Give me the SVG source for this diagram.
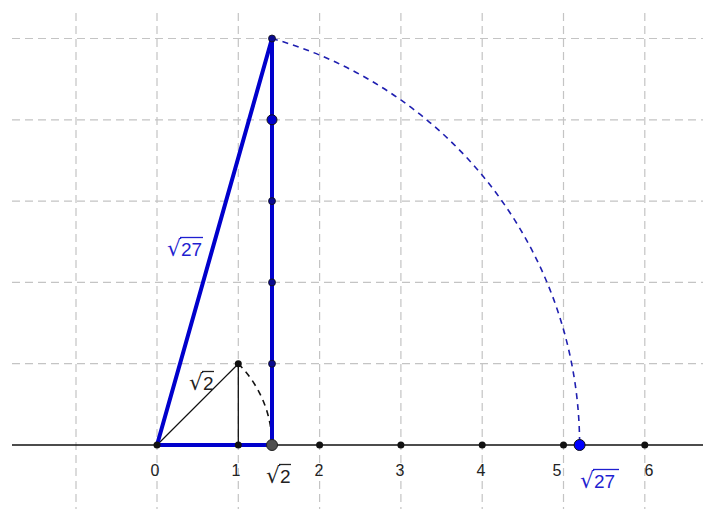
<svg xmlns="http://www.w3.org/2000/svg" width="703" height="509" viewBox="0 0 703 509">
<style>
.grid{stroke:#c4c4c4;stroke-width:1.2;stroke-dasharray:8 5;fill:none}
.t{font-family:"Liberation Sans",Arial,sans-serif;font-size:16px;fill:#222}
.r{font-family:"Liberation Sans",Arial,sans-serif;font-size:19px}
.rad{font-family:"DejaVu Sans",sans-serif;font-size:22px}
.blue{fill:#1f1fd0}
.thick{stroke:#0000cc;stroke-width:4;fill:none;stroke-linecap:round}
.thin{stroke:#111;stroke-width:1.3;fill:none}
.dash{stroke:#1f1fb0;stroke-width:1.6;stroke-dasharray:6 5;fill:none}
.dashk{stroke:#111;stroke-width:1.6;stroke-dasharray:6 5;fill:none}
.pt{fill:#111}
.nv{fill:#0a0a90;stroke:#111;stroke-width:0.8}
</style>
<rect width="703" height="509" fill="#fff"/>
<g id="grid">
<path class="grid" d="M76,13V509M157,13V509M238.3,13V509M319.6,13V509M400.9,13V509M482.2,13V509M563.5,13V509M644.8,13V509"/>
<path class="grid" d="M12,38.5H703M12,119.8H703M12,201.1H703M12,282.4H703M12,363.7H703"/>
</g>
<g id="axis"><line x1="12" y1="445" x2="703" y2="445" stroke="#111" stroke-width="1.5"/></g>
<g id="connectors">
<path class="thin" d="M157,445L238.3,363.7V445"/>
<path class="dashk" d="M238.3,363.7A115,115 0 0 1 272,445"/>
<path class="dash" d="M272,38.5A422.5,422.5 0 0 1 579.6,445"/>
<path class="thick" d="M157,445H272V38.5L157,445"/>
</g>
<g id="points">
<circle class="pt" cx="157" cy="445" r="3.5"/>
<circle class="pt" cx="238.3" cy="445" r="3.5"/>
<circle class="pt" cx="238.3" cy="363.7" r="3.5"/>
<circle class="pt" cx="319.6" cy="445" r="3.5"/>
<circle class="pt" cx="400.9" cy="445" r="3.5"/>
<circle class="pt" cx="482.2" cy="445" r="3.5"/>
<circle class="pt" cx="563.5" cy="445" r="3.5"/>
<circle class="pt" cx="644.8" cy="445" r="3.5"/>
<circle cx="272" cy="445" r="5.5" fill="#505050" stroke="#222" stroke-width="1"/>
<circle class="nv" cx="272" cy="363.7" r="3.5"/>
<circle class="nv" cx="272" cy="282.4" r="3.5"/>
<circle class="nv" cx="272" cy="201.1" r="3.5"/>
<circle cx="272" cy="119.8" r="5" fill="#0000cc" stroke="#111" stroke-width="1"/>
<circle class="nv" cx="272" cy="38.5" r="3.5"/>
<circle cx="579.6" cy="445" r="5.5" fill="#0000ff" stroke="#111" stroke-width="1"/>
</g>
<g id="labels">
<text class="t" x="155" y="476" text-anchor="middle">0</text>
<text class="t" x="236" y="476" text-anchor="middle">1</text>
<text class="t" x="319" y="476" text-anchor="middle">2</text>
<text class="t" x="400" y="476" text-anchor="middle">3</text>
<text class="t" x="481" y="476" text-anchor="middle">4</text>
<text class="t" x="557" y="476" text-anchor="middle">5</text>
<text class="t" x="649" y="476" text-anchor="middle">6</text>
<g id="lbl-sqrt2-axis" fill="#222"><text x="266" y="483"><tspan class="rad">√</tspan><tspan class="r">2</tspan></text><line x1="279" y1="464.5" x2="291" y2="464.5" stroke="#222" stroke-width="1.3"/></g>
<g id="lbl-sqrt2-diag" fill="#222"><text x="189" y="390"><tspan class="rad">√</tspan><tspan class="r">2</tspan></text><line x1="202" y1="371.5" x2="214" y2="371.5" stroke="#222" stroke-width="1.3"/></g>
<g id="lbl-sqrt27-hyp" class="blue"><text x="167" y="256"><tspan class="rad">√</tspan><tspan class="r">27</tspan></text><line x1="180" y1="237.5" x2="203" y2="237.5" stroke="#1f1fd0" stroke-width="1.3"/></g>
<g id="lbl-sqrt27-axis" class="blue"><text x="580" y="488"><tspan class="rad">√</tspan><tspan class="r">27</tspan></text><line x1="593" y1="469.5" x2="619" y2="469.5" stroke="#1f1fd0" stroke-width="1.3"/></g>
</g>
</svg>
